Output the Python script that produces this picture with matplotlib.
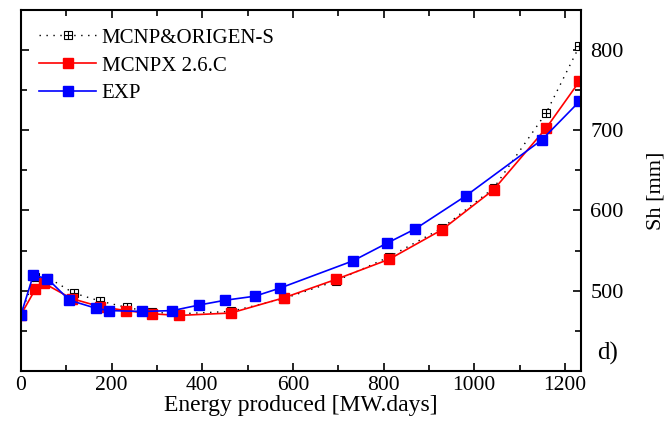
import matplotlib
matplotlib.use("Agg")
import matplotlib.pyplot as plt
from matplotlib.legend_handler import HandlerTuple
from matplotlib.ticker import MultipleLocator, FuncFormatter

# burnup [MW.days] vs Sh [mm]
x_mo = [0, 30, 60, 116, 174, 233, 290, 349, 463, 580, 695, 812, 929, 1043, 1159, 1232]
y_mo = [470, 517, 516, 497, 487, 479, 473, 471, 474, 490, 512, 542, 578, 628, 722, 805]

x_px = [0, 32, 51, 112, 174, 232, 290, 349, 463, 580, 695, 812, 929, 1043, 1159, 1232]
y_px = [470, 502, 509, 490, 480, 475, 471, 469, 472, 491, 514, 539, 576, 626, 703, 761]

x_exp = [0, 27, 58, 107, 165, 194, 268, 334, 393, 451, 516, 571, 732, 807, 870, 981, 1149, 1232]
y_exp = [470, 519, 515, 488, 478, 475, 474, 475, 482, 488, 493, 503, 537, 559, 577, 618, 688, 736]

plt.rcParams["font.family"] = ["Liberation Serif", "DejaVu Serif"]

fig = plt.figure(figsize=(6.66, 4.23), dpi=100, facecolor="white")
ax = fig.add_axes([0.0315, 0.1236, 0.8405, 0.8525])

l_mo, = ax.plot(x_mo, y_mo, color="black", ls=(0, (1, 4)), lw=1.0,
                marker="s", ms=6, mfc="white", mec="black", mew=0.8)
p_mo, = ax.plot(x_mo, y_mo, ls="none", marker="+", ms=6, color="black", mew=0.8)
l_px, = ax.plot(x_px, y_px, color="#ff0000", lw=1.2, marker="s", ms=7.5,
                mfc="#ff0000", mec="#ff0000")
l_ex, = ax.plot(x_exp, y_exp, color="#0000ff", lw=1.2, marker="s", ms=7.5,
                mfc="#0000ff", mec="#0000ff")

ax.set_xlim(0, 1235)
ax.set_ylim(400, 850)
ax.xaxis.set_major_locator(MultipleLocator(200))
ax.xaxis.set_minor_locator(MultipleLocator(100))
ax.yaxis.set_major_locator(MultipleLocator(100))
ax.yaxis.set_minor_locator(MultipleLocator(50))
ax.yaxis.set_major_formatter(FuncFormatter(lambda v, p: "" if v < 450 else f"{v:.0f}"))
ax.yaxis.tick_right()
ax.tick_params(which="both", direction="in", top=True, left=True, right=True,
               labelsize=16, width=1.2)
ax.tick_params(axis="x", pad=4, labelsize=15.5)
ax.tick_params(axis="y", pad=7)
ax.tick_params(which="major", length=6)
ax.tick_params(which="minor", length=4)
for s in ax.spines.values():
    s.set_linewidth(1.5)
ax.yaxis.set_label_position("right")
ax.set_ylabel("Sh [mm]", fontsize=16, labelpad=16)
ax.set_xlabel("Energy produced [MW.days]", fontsize=17, labelpad=0)
ax.text(1.03, 0.03, "d)", transform=ax.transAxes, fontsize=18)

ax.legend([(l_mo, p_mo), l_px, l_ex], ["MCNP&ORIGEN-S", "MCNPX 2.6.C", "EXP"],
          handler_map={tuple: HandlerTuple(ndivide=1)}, numpoints=1,
          loc="upper left", frameon=False, fontsize=15, handlelength=2.75,
          handletextpad=0.25, labelspacing=0.4, borderaxespad=0.2,
          bbox_to_anchor=(0.01, 0.985))

fig.savefig("out.png", dpi=100)
